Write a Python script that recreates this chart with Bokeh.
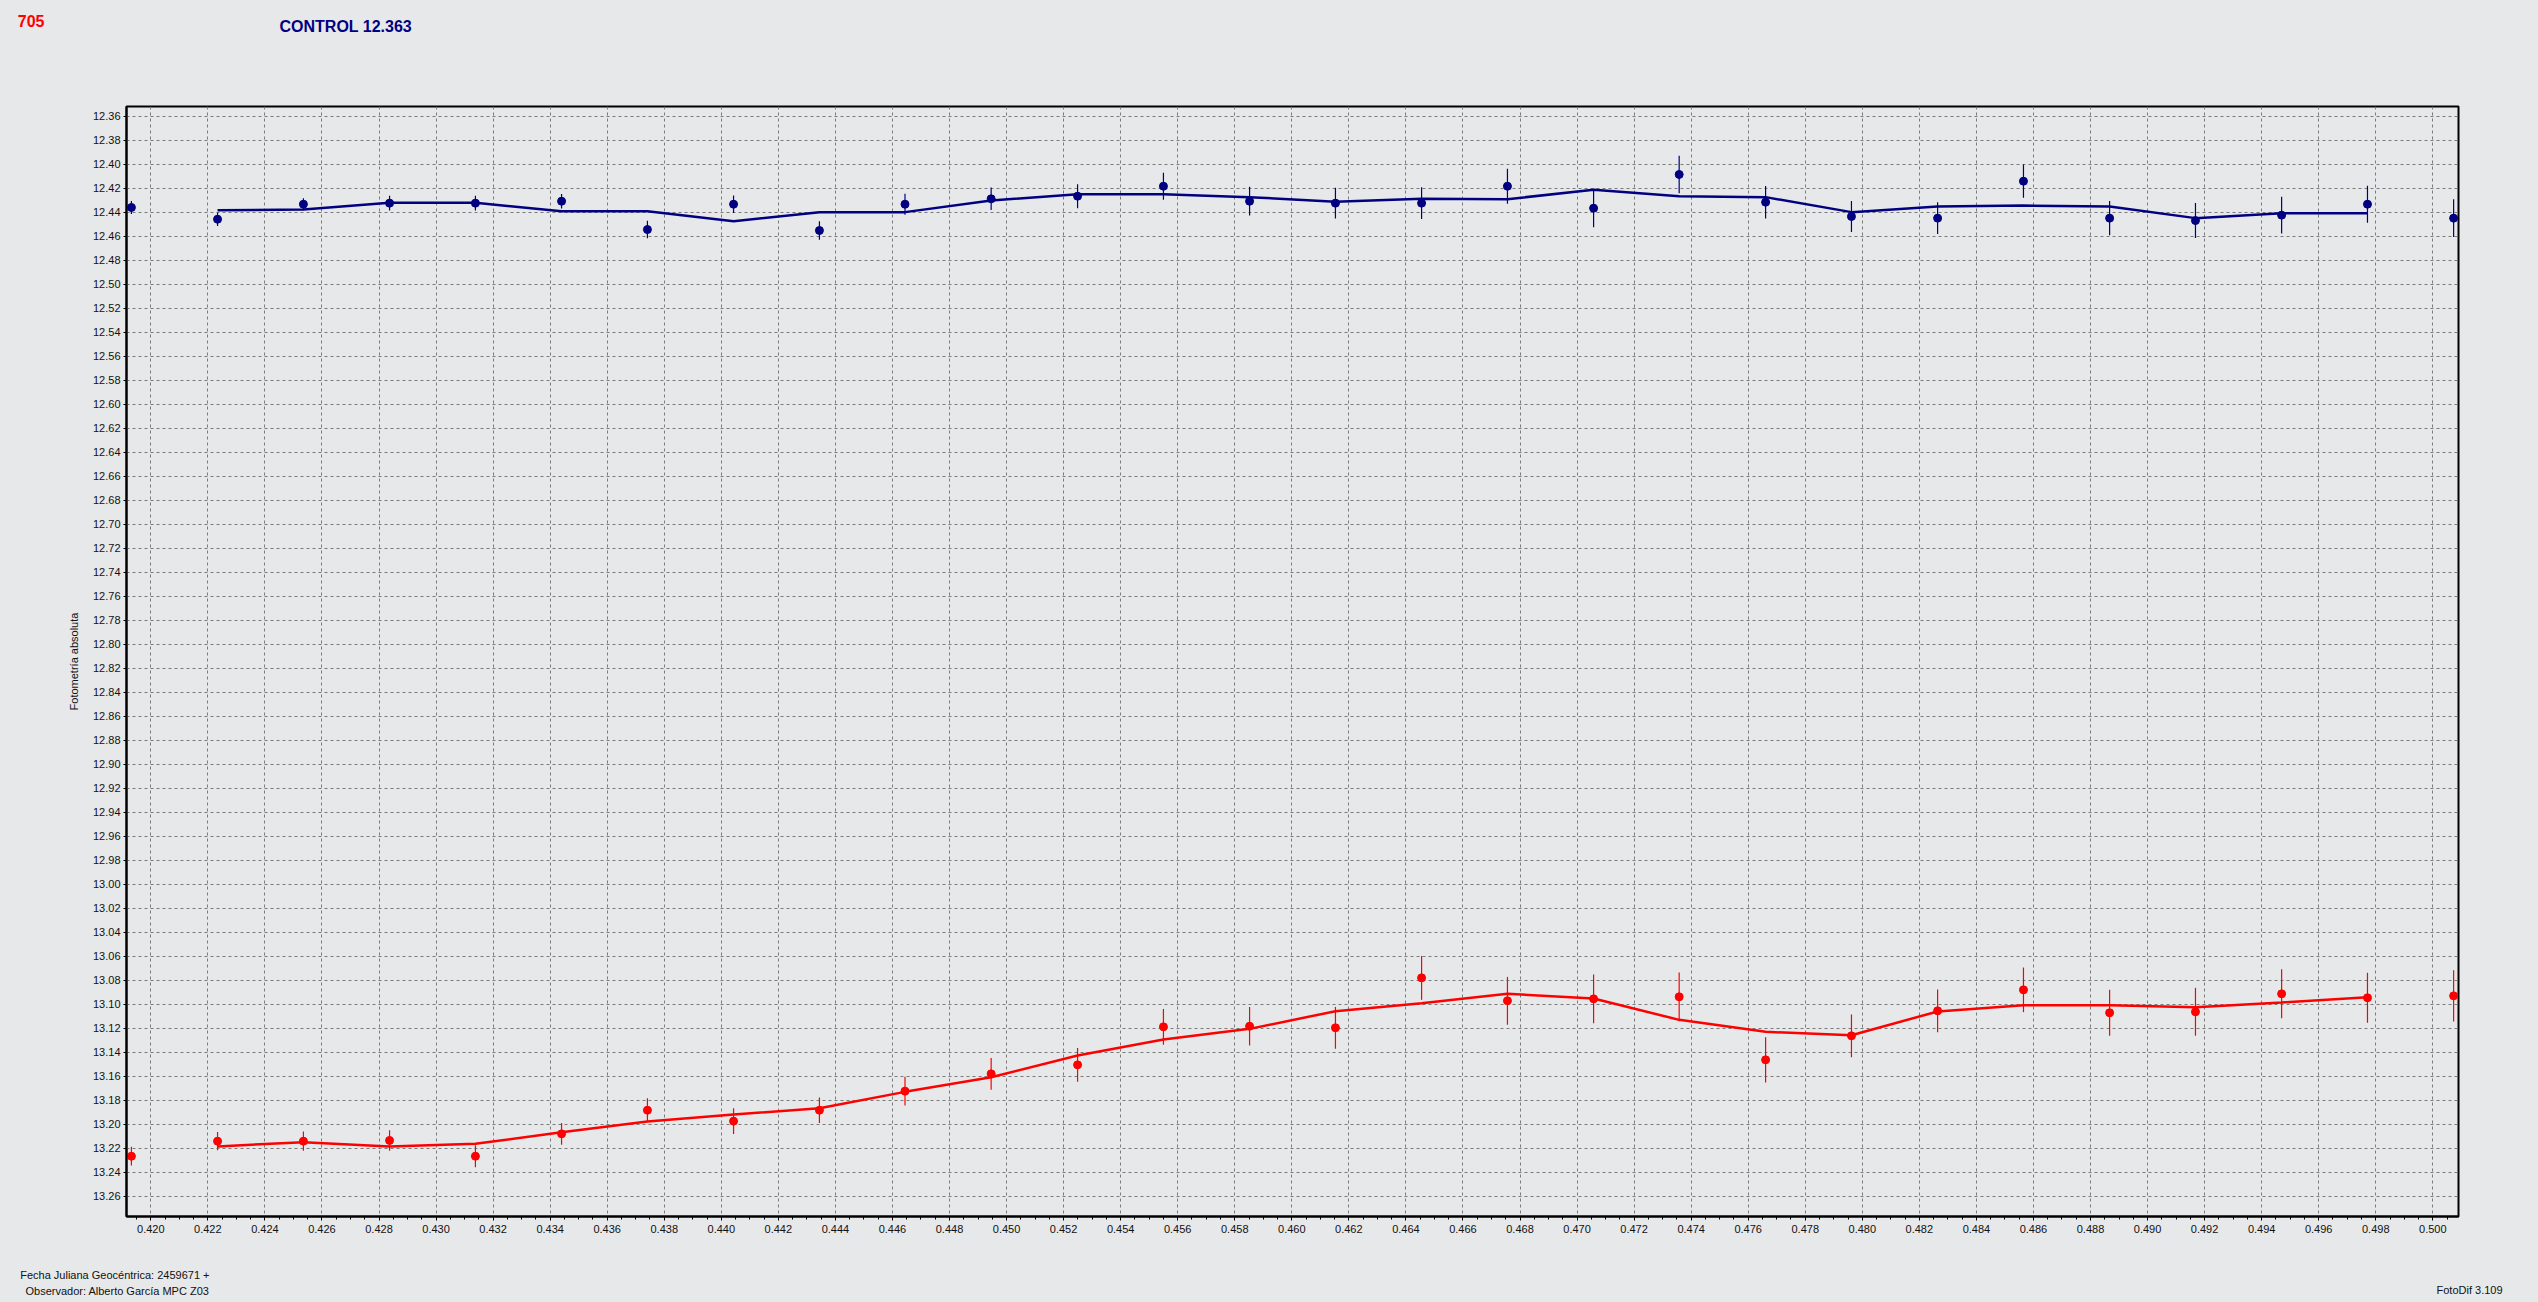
from bokeh.plotting import figure
from bokeh.layouts import column
from bokeh.models import (ColumnDataSource, Range1d, FixedTicker, Label, PrintfTickFormatter,
                          LinearAxis)
from bokeh.embed import file_html
from bokeh.resources import INLINE

# ---- data ----
jd_frac = [0.41932, 0.42234, 0.42535, 0.42837, 0.43138, 0.43440, 0.43741, 0.44043,
           0.44344, 0.44644, 0.44946, 0.45249, 0.45550, 0.45852, 0.46153, 0.46455,
           0.46756, 0.47058, 0.47358, 0.47661, 0.47962, 0.48264, 0.48565, 0.48867,
           0.49168, 0.49470, 0.49771, 0.50073]

control_mag = [12.4358, 12.4456, 12.4331, 12.4322, 12.4322, 12.4306, 12.4542, 12.4331,
               12.4550, 12.4331, 12.4286, 12.4264, 12.4181, 12.4306, 12.4322, 12.4322,
               12.4181, 12.4364, 12.4083, 12.4314, 12.4433, 12.4447, 12.4139, 12.4447,
               12.4467, 12.4422, 12.4331, 12.4447]
control_err = [0.0054, 0.0056, 0.0050, 0.0062, 0.0061, 0.0061, 0.0073, 0.0073,
               0.0078, 0.0088, 0.0094, 0.0100, 0.0113, 0.0120, 0.0128, 0.0133,
               0.0146, 0.0158, 0.0156, 0.0135, 0.0129, 0.0133, 0.0138, 0.0142,
               0.0146, 0.0154, 0.0154, 0.0157]
control_fit = [12.4381, 12.4375, 12.4319, 12.4319, 12.4389, 12.4389, 12.4472, 12.4397,
               12.4397, 12.4300, 12.4247, 12.4247, 12.4272, 12.4311, 12.4286, 12.4289,
               12.4211, 12.4264, 12.4272, 12.4397, 12.4350, 12.4342, 12.4350, 12.4447,
               12.4406, 12.4406]

target_mag = [13.2264, 13.2139, 13.2139, 13.2133, 13.2264, 13.2078, 13.1881, 13.1972,
              13.1881, 13.1722, 13.1578, 13.1503, 13.1186, 13.1181, 13.1194, 13.0778,
              13.0969, 13.0953, 13.0936, 13.1461, 13.1261, 13.1053, 13.0878, 13.1069,
              13.1061, 13.0911, 13.0944, 13.0928]
target_err = [0.0078, 0.0076, 0.0080, 0.0086, 0.0092, 0.0090, 0.0099, 0.0107,
              0.0107, 0.0120, 0.0132, 0.0140, 0.0149, 0.0160, 0.0174, 0.0183,
              0.0199, 0.0203, 0.0203, 0.0188, 0.0178, 0.0179, 0.0186, 0.0192,
              0.0200, 0.0204, 0.0208, 0.0213]
target_fit = [13.2183, 13.2147, 13.2183, 13.2161, 13.2064, 13.1975, 13.1917, 13.1864,
              13.1728, 13.1606, 13.1425, 13.1292, 13.1203, 13.1056, 13.0989, 13.0911,
              13.0950, 13.1128, 13.1228, 13.1256, 13.1058, 13.1006, 13.1006, 13.1022,
              13.0983, 13.0939]

y_ticks = [round(12.36 + 0.02 * i, 2) for i in range(46)]
x_ticks = [round(0.420 + 0.002 * i, 3) for i in range(41)]
x_minor = [round(0.4195 + 0.0005 * i, 4) for i in range(164)]

BG = "#E7E8EA"
NAVY = "#000080"
RED = "#FF0000"
FONT = "Liberation Sans"
INK = "#111111"

W, H = 2538, 1302
HEAD_H, FOOT_H = 60, 52
MAIN_H = H - HEAD_H - FOOT_H
FL, FR, FT, FB = 126, 2458, 106, 1216   # plot-frame edges in page pixels


def strip(height):
    # thin text strip; its y data = pixels from the strip's top
    s = figure(width=W, height=height, output_backend="svg", toolbar_location=None,
               x_axis_type=None, y_axis_type=None, x_range=Range1d(0, 1),
               y_range=Range1d(height, 0),
               min_border_left=FL, min_border_right=W - FR, min_border_top=0, min_border_bottom=0,
               background_fill_color=BG, border_fill_color=BG,
               styles={"background-color": BG})
    s.outline_line_color = None
    s.grid.visible = False
    return s


def text_axis(fig, side, ticks, texts, standoff, color=INK, size="11px", style="normal"):
    ax = LinearAxis(ticker=FixedTicker(ticks=ticks, minor_ticks=[]),
                    major_label_overrides=dict(zip(ticks, texts)))
    ax.axis_line_color = None
    ax.major_tick_line_color = None
    ax.minor_tick_line_color = None
    ax.major_tick_out = 0
    ax.major_tick_in = 0
    ax.major_label_standoff = standoff
    ax.major_label_text_color = color
    ax.major_label_text_font = FONT
    ax.major_label_text_font_size = size
    ax.major_label_text_font_style = style
    fig.add_layout(ax, side)


# ---- header ----
head = strip(HEAD_H)
text_axis(head, "left", [20], ["705"], FL - 44, RED, "16px", "bold")
head.add_layout(Label(x=279 - FL, y=HEAD_H - 26, x_units="screen", y_units="screen",
                      text="CONTROL 12.363", text_color=NAVY, text_font=FONT,
                      text_font_size="16px", text_font_style="bold",
                      text_baseline="alphabetic", text_align="left"))

# ---- main chart ----
p = figure(width=W, height=MAIN_H, output_backend="svg", toolbar_location=None,
           x_range=Range1d(0.419148, 0.500901), y_range=Range1d(13.27667, 12.35167),
           min_border_left=FL, min_border_right=W - FR,
           min_border_top=FT - HEAD_H, min_border_bottom=(H - FOOT_H) - FB,
           background_fill_color=BG, border_fill_color=BG,
           styles={"background-color": BG})
p.outline_line_color = "black"
p.outline_line_width = 2

for ax in (p.xaxis[0], p.yaxis[0]):
    ax.axis_line_color = "black"
    ax.axis_line_width = 2
    ax.major_tick_line_color = "black"
    ax.minor_tick_line_color = "black"
    ax.major_tick_in = 0
    ax.minor_tick_in = 0
    ax.major_label_text_font = FONT
    ax.major_label_text_font_size = "11px"
    ax.major_label_text_color = INK

p.xaxis.ticker = FixedTicker(ticks=x_ticks, minor_ticks=x_minor)
p.xaxis.formatter = PrintfTickFormatter(format="%.3f")
p.xaxis.major_tick_out = 4
p.xaxis.minor_tick_out = 3
p.xaxis.major_label_standoff = 4

p.yaxis.ticker = FixedTicker(ticks=y_ticks, minor_ticks=[])
p.yaxis.formatter = PrintfTickFormatter(format="%.2f")
p.yaxis.major_tick_out = 3
p.yaxis.minor_tick_out = 0
p.yaxis.major_label_standoff = 3
p.yaxis.axis_label = "Fotometría absoluta"
p.yaxis.axis_label_text_font = FONT
p.yaxis.axis_label_text_font_size = "11px"
p.yaxis.axis_label_text_font_style = "normal"
p.yaxis.axis_label_text_color = INK
p.yaxis.axis_label_standoff = 10

for g in (p.xgrid[0], p.ygrid[0]):
    g.grid_line_color = "#7a7a7a"
    g.grid_line_dash = "3 3"
    g.grid_line_width = 1


def series(mag, err, fit, color):
    src = ColumnDataSource(dict(x=jd_frac, y=mag,
                                lo=[m - e for m, e in zip(mag, err)],
                                hi=[m + e for m, e in zip(mag, err)]))
    fsrc = ColumnDataSource(dict(x=jd_frac[1:1 + len(fit)], y=fit))
    p.line("x", "y", source=fsrc, line_color=color, line_width=2.5)
    p.segment(x0="x", y0="lo", x1="x", y1="hi", source=src, line_color=color, line_width=1.2)
    p.scatter("x", "y", source=src, marker="circle", size=8, fill_color=color, line_color=color)


series(control_mag, control_err, control_fit, NAVY)
series(target_mag, target_err, target_fit, RED)

# ---- footer ----
foot = strip(FOOT_H)
text_axis(foot, "left", [24, 40],
          ["Fecha Juliana Geocéntrica: 2459671 +", "Observador: Alberto García MPC Z03"],
          FL - 209)
text_axis(foot, "right", [39], ["FotoDif 3.109"], 2436 - FR)

page = column(head, p, foot, spacing=0,
              styles={"background-color": BG, "outline": "2px solid #9a9a9a",
                      "outline-offset": "-2px"})
open("out.html", "w").write(file_html(page, INLINE))
